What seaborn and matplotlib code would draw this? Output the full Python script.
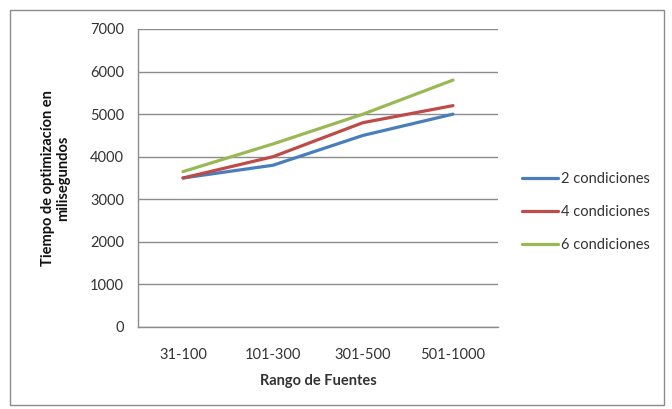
import numpy as np
import pandas as pd
import seaborn as sns
import matplotlib
matplotlib.use('Agg')
import matplotlib.pyplot as plt
from matplotlib.patches import Rectangle

# data
rangos = ['31-100', '101-300', '301-500', '501-1000']
cond_2 = [3500, 3800, 4500, 5000]
cond_4 = [3500, 4000, 4800, 5200]
cond_6 = [3650, 4300, 5000, 5800]
series_names = ['2 condiciones', '4 condiciones', '6 condiciones']
colores = ['#4A7EBB', '#BE4B48', '#98B954']

df = pd.DataFrame({
    'rango': rangos * 3,
    'pos': list(range(len(rangos))) * 3,
    'tiempo': cond_2 + cond_4 + cond_6,
    'serie': [s for s in series_names for _ in rangos],
})

sns.set_style('white')
plt.rcParams['font.family'] = ['Lato', 'DejaVu Sans']

fig = plt.figure(figsize=(6.72, 4.09), dpi=100)
ax = fig.add_axes([138 / 672, 1 - 327 / 409, 360 / 672, 298 / 409])

sns.lineplot(data=df, x='pos', y='tiempo', hue='serie', palette=colores,
             linewidth=2.3, ax=ax, legend=True)

ax.set_xlim(-0.5, 3.5)
ax.set_ylim(0, 7000)
ax.set_yticks(np.arange(0, 7001, 1000))
ax.yaxis.grid(True, color='#8c8c8c', linewidth=1)
ax.set_axisbelow(True)
ax.set_xticks(range(len(rangos)))
ax.set_xticklabels(rangos)
ax.set_xticks(np.arange(-0.5, 3.6, 1), minor=True)
ax.tick_params(axis='x', which='major', length=0, pad=15, labelsize=10.5, colors='#333333')
ax.tick_params(axis='x', which='minor', length=5, width=1, color='#8c8c8c', direction='out')
ax.tick_params(axis='y', which='major', length=5, width=1, color='#8c8c8c', direction='out',
               labelsize=10.5, colors='#333333', pad=5)

for side in ['top', 'right']:
    ax.spines[side].set_visible(False)
for side in ['left', 'bottom']:
    ax.spines[side].set_color('#8c8c8c')
    ax.spines[side].set_linewidth(1)

ax.set_xlabel('Rango de Fuentes', fontsize=10.5, fontweight='bold', color='#333333', labelpad=9)
ax.set_ylabel('Tiempo de optimizacíon en\nmilisegundos', fontsize=10.5, fontweight='bold',
              color='#111111', labelpad=14, linespacing=1.1)
ax.yaxis.label.set_multialignment('center')

handles, labels = ax.get_legend_handles_labels()
ax.legend(handles, labels, loc='center left', bbox_to_anchor=(1.03, 0.385), frameon=False,
          fontsize=10.5, handlelength=2.5, handletextpad=0.15, labelspacing=1.3,
          labelcolor='#333333')

fig.patches.append(Rectangle((10 / 672, 4 / 409), 654 / 672, 395 / 409,
                             transform=fig.transFigure, fill=False,
                             edgecolor='#8c8c8c', linewidth=1))

fig.savefig('out.png', dpi=100)
